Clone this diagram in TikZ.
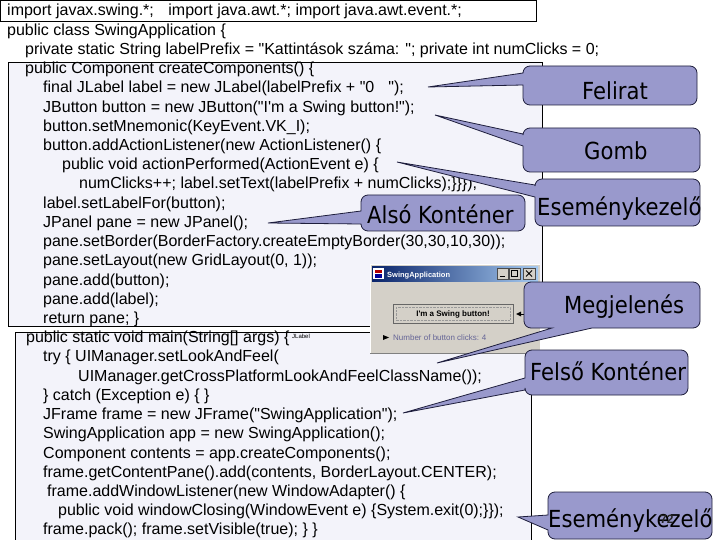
\documentclass[tikz,border=0pt]{standalone}
\usepackage{fontspec}
\setmainfont{Liberation Sans}
\newfontfamily\callfont{DejaVu Sans Condensed}
\font\codef="Liberation Sans" at 16pt
\font\smallcodef="Liberation Sans" at 6pt
\font\winbf="Liberation Sans/B" at 8pt
\font\winrm="Liberation Sans" at 8pt
\font\wintitle="Liberation Sans/B" at 7.5pt
\definecolor{callfill}{RGB}{153,153,204}
\definecolor{calldraw}{RGB}{30,30,60}
\definecolor{boxfill}{RGB}{243,243,250}
\definecolor{winbody}{RGB}{212,208,200}
\definecolor{titleA}{RGB}{10,36,106}
\definecolor{titleB}{RGB}{166,202,240}
\definecolor{labelcol}{RGB}{100,100,150}
\newcommand{\codeln}[4]{\node[code] (#1) at (#2,{16+19.22*(#3-1)}) {#4};}
% left-side wedge callout: x1 y1 x2 y2 a b tx ty
\newcommand{\calloutL}[8]{\path[callshape] (#1,#5) [rounded corners=7pt] -- (#1,#2) -- (#3,#2) -- (#3,#4) -- (#1,#4) [sharp corners] -- (#1,#6) -- (#7,#8) -- cycle;}
% bottom wedge callout: x1 y1 x2 y2 b1 b2 tx ty
\newcommand{\calloutB}[8]{\path[callshape] (#5,#4) [rounded corners=7pt] -- (#1,#4) -- (#1,#2) -- (#3,#2) -- (#3,#4) [sharp corners] -- (#6,#4) -- (#7,#8) -- cycle;}
\begin{document}
\begin{tikzpicture}[x=1pt,y=-1pt,
  code/.style={anchor=base west,inner sep=0pt,font=\codef},
  calltext/.style={anchor=base west,inner sep=0pt,font=\callfont\fontsize{23.5}{26}\selectfont},
  callshape/.style={fill=callfill,draw=calldraw,line width=0.8pt},
  codebox/.style={draw=black,line width=0.9pt},
  tiny/.style={anchor=base west,inner sep=0pt}]
\useasboundingbox (0,0) rectangle (720,540);
\fill[white] (0,0) rectangle (720,540);
% code boxes
\draw[codebox,fill=white] (0.5,0.5) rectangle (536,21);
\draw[codebox,fill=boxfill] (8,62) rectangle (542,326);
\draw[codebox,fill=boxfill] (15,332) rectangle (531,548);
% code lines
\codeln{l1}{7}{1}{import javax.swing.*;\hspace{14.5pt}import java.awt.*; import java.awt.event.*;}
\codeln{l2}{7}{2}{public class SwingApplication \{}
\codeln{l3}{25}{3}{private static String labelPrefix = "Kattintások száma: "; private int numClicks = 0;}
\codeln{l4}{25}{4}{public Component createComponents() \{}
\codeln{l5}{43}{5}{final JLabel label = new JLabel(labelPrefix + "0\hspace{14pt}");}
\codeln{l6}{43}{6}{JButton button = new JButton("I'm a Swing button!");}
\codeln{l7}{43}{7}{button.setMnemonic(KeyEvent.VK\_I);}
\codeln{l8}{43}{8}{button.addActionListener(new ActionListener() \{}
\codeln{l9}{62}{9}{public void actionPerformed(ActionEvent e) \{}
\codeln{l10}{79}{10}{numClicks++; label.setText(labelPrefix + numClicks);\}\}\});}
\codeln{l11}{43}{11}{label.setLabelFor(button);}
\codeln{l12}{43}{12}{JPanel pane = new JPanel();}
\codeln{l13}{43}{13}{pane.setBorder(BorderFactory.createEmptyBorder(30,30,10,30));}
\codeln{l14}{43}{14}{pane.setLayout(new GridLayout(0, 1));}
\codeln{l15}{43}{15}{pane.add(button);}
\codeln{l16}{43}{16}{pane.add(label);}
\codeln{l17}{43}{17}{return pane; \}}
\codeln{l18}{26}{18}{public static void main(String[] args) \{}
\codeln{l19}{43}{19}{try \{ UIManager.setLookAndFeel(}
\codeln{l20}{78}{20}{UIManager.getCrossPlatformLookAndFeelClassName());}
\codeln{l21}{43}{21}{\} catch (Exception e) \{ \}}
\codeln{l22}{43}{22}{JFrame frame = new JFrame("SwingApplication");}
\codeln{l23}{43}{23}{SwingApplication app = new SwingApplication();}
\codeln{l24}{43}{24}{Component contents = app.createComponents();}
\codeln{l25}{43}{25}{frame.getContentPane().add(contents, BorderLayout.CENTER);}
\codeln{l26}{47}{26}{frame.addWindowListener(new WindowAdapter() \{}
\codeln{l27}{58}{27}{public void windowClosing(WindowEvent e) \{System.exit(0);\}\});}
\codeln{l28}{43}{28}{frame.pack(); frame.setVisible(true); \} \}}
\node[tiny,font=\smallcodef] (jl) at (292,338) {JLabel};
% screenshot window
\fill[winbody] (370,264) rectangle (540,354);
\draw[white,line width=0.8pt] (370.5,354) -- (370.5,264.5) -- (540,264.5);
\draw[gray,line width=0.8pt] (370,353.5) -- (540,353.5);
\shade[left color=titleA,right color=titleB] (372,266) rectangle (538,281);
\fill[white] (373,268) rectangle (384,279);
\fill[red!70!black] (375,270) rectangle (382,273);
\fill[blue!60!black] (375,274) rectangle (382,277.5);
\node[tiny,text=white,font=\wintitle] (wtitle) at (387,277) {SwingApplication};
\draw[black!70,fill=winbody] (497,268) rectangle (508,279);
\draw[black!70,fill=winbody] (509,268) rectangle (520,279);
\draw[black!70,fill=winbody] (523,268) rectangle (535,279);
\draw[line width=1pt] (500,276.5) -- (505,276.5);
\draw[line width=0.8pt] (511.5,270.5) rectangle (517.5,276.5);
\draw[line width=1pt] (526,270.5) -- (532,276.5) (526,276.5) -- (532,270.5);
\draw[black!60,fill=winbody] (393,304) rectangle (513,323);
\draw[black!40,densely dotted] (396,307) rectangle (510,320);
\node[font=\winbf,inner sep=0pt] (wbtn) at (453,314) {I'm a Swing button!};
\node[tiny,text=labelcol,font=\winrm] (wlab) at (393,340) {Number of button clicks: 4};
\fill (383,335) -- (389,337.5) -- (383,340) -- cycle;
\fill (516,314) -- (521,311.5) -- (521,316.5) -- cycle;
\draw[line width=1pt] (520,314) -- (525,314);
% callouts
\calloutL{523}{66}{697}{105}{73}{85}{428}{87}
\calloutL{523}{128}{700}{172}{134}{146}{435}{115}
\calloutL{535}{179}{700}{226}{185}{197}{397}{162}
\calloutL{361}{195}{525}{231}{211}{224}{268}{223}
\calloutB{524}{282}{700}{328}{552}{592}{437}{363}
\calloutL{525}{350}{688}{395}{378}{390}{403}{413}
\calloutL{548}{492}{712}{539}{515}{530}{518}{517}
\node[calltext] (tFel) at (582,100) {Felirat};
\node[calltext] (tGomb) at (584,160) {Gomb};
\node[calltext] (tEse1) at (537,215) {Eseménykezelő};
\node[calltext] (tAlso) at (367,223) {Alsó Konténer};
\node[calltext] (tMeg) at (564,313) {Megjelenés};
\node[calltext] (tFelso) at (530,380) {Felső Konténer};
\node[calltext] (tEse2) at (548,527) {Eseménykezelő};
\node[tiny,font=\bfseries\fontsize{12}{12}\selectfont,text=black!85] (pnum) at (660,523) {72};
\end{tikzpicture}
\end{document}
